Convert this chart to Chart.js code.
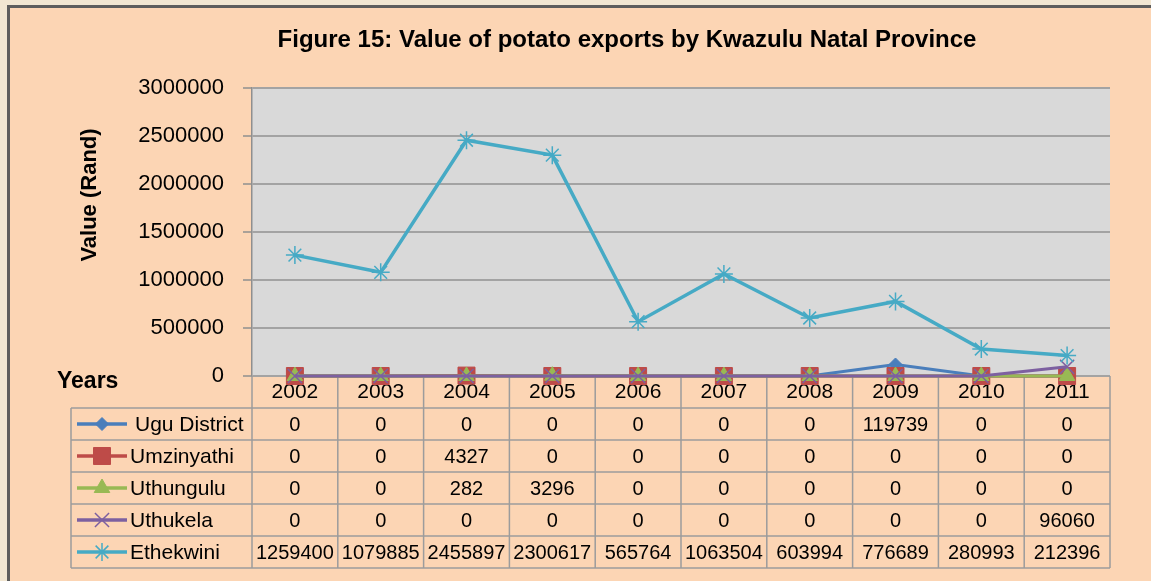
<!DOCTYPE html>
<html>
<head>
<meta charset="utf-8">
<title>Figure 15: Value of potato exports by Kwazulu Natal Province</title>
<script src="https://cdn.jsdelivr.net/npm/chart.js@4.4.1/dist/chart.umd.min.js"></script>
<style>
  html, body { margin: 0; padding: 0; }
  body { width: 1151px; height: 581px; overflow: hidden; background: #f1e6d2; position: relative; }
  #frame {
    position: absolute; left: 7px; top: 5px; width: 1200px; height: 640px;
    background: #fcd5b4; border: 3px solid #5d5d5d; box-sizing: border-box;
  }
  #chart { position: absolute; left: 0; top: 0; }
</style>
</head>
<body>
<div id="frame"></div>
<canvas id="chart" width="1151" height="581"></canvas>
<script>
// Figure 15 – value of potato exports, Kwazulu Natal, by district

const years = ["2002", "2003", "2004", "2005", "2006", "2007", "2008", "2009", "2010", "2011"];

const seriesNames = ["Ugu District", "Umzinyathi", "Uthungulu", "Uthukela", "Ethekwini"];

const ugu        = [0, 0, 0, 0, 0, 0, 0, 119739, 0, 0];
const umzinyathi = [0, 0, 4327, 0, 0, 0, 0, 0, 0, 0];
const uthungulu  = [0, 0, 282, 3296, 0, 0, 0, 0, 0, 0];
const uthukela   = [0, 0, 0, 0, 0, 0, 0, 0, 0, 96060];
const ethekwini  = [1259400, 1079885, 2455897, 2300617, 565764, 1063504, 603994, 776689, 280993, 212396];

const yMax = 3000000;
const yStep = 500000;

const titleText = "Figure 15: Value of potato exports by Kwazulu Natal Province";
const yTitle = "Value (Rand)";
const xTitle = "Years";

const FONT = "'Liberation Sans', Arial, sans-serif";

const styles = [
  { color: "#4a7ebb", point: "rectRot",  radius: 6.5, border: 1,   width: 3 },
  { color: "#be4b48", point: "rect",     radius: 12,  border: 1,   width: 3 },
  { color: "#98b954", point: "triangle", radius: 9,   border: 1,   width: 3 },
  { color: "#7d60a0", point: "crossRot", radius: 10,  border: 1.5, width: 3 },
  { color: "#46aac5", point: "star",     radius: 9,   border: 1.5, width: 3.5 },
];

const seriesData = [ugu, umzinyathi, uthungulu, uthukela, ethekwini];

// таблица данных под графиком + заголовки
const dataTable = {
  id: "dataTable",
  beforeDraw(chart) {
    const { ctx, chartArea: a } = chart;
    ctx.save();
    ctx.fillStyle = "#d9d9d9";
    ctx.fillRect(a.left, a.top, a.right - a.left, a.bottom - a.top);
    ctx.restore();
  },
  beforeDatasetsDraw(chart) {
    const { ctx, chartArea: a } = chart;
    const xs = chart.scales.x;
    const n = years.length;
    const tableLeft = 71;
    const headTop = a.bottom;
    const rowTop = xs.bottom;
    const rowH = 32;
    const tableBottom = rowTop + rowH * seriesNames.length;

    const edges = [];
    for (let i = 0; i <= n; i++) {
      if (i === 0) edges.push(a.left);
      else if (i === n) edges.push(a.right);
      else edges.push((xs.getPixelForValue(i - 1) + xs.getPixelForValue(i)) / 2);
    }

    ctx.save();
    ctx.strokeStyle = "#9c9c9c";
    ctx.lineWidth = 1.5;
    ctx.beginPath();
    for (let r = 0; r <= seriesNames.length; r++) {
      const y = rowTop + r * rowH;
      ctx.moveTo(tableLeft, y);
      ctx.lineTo(a.right, y);
    }
    ctx.moveTo(tableLeft, rowTop);
    ctx.lineTo(tableLeft, tableBottom);
    edges.forEach((x) => {
      ctx.moveTo(x, headTop);
      ctx.lineTo(x, tableBottom);
    });
    ctx.stroke();

    ctx.fillStyle = "#000";
    ctx.textBaseline = "middle";
    ctx.textAlign = "center";
    ctx.font = `20px ${FONT}`;
    seriesData.forEach((vals, r) => {
      const y = rowTop + r * rowH + rowH / 2 + 1;
      vals.forEach((v, i) => {
        ctx.fillText(String(v), xs.getPixelForValue(i), y);
      });
    });

    // легенда в первой колонке
    seriesNames.forEach((name, r) => {
      const s = styles[r];
      const y = rowTop + r * rowH + rowH / 2;
      ctx.strokeStyle = s.color;
      ctx.lineWidth = 3.5;
      ctx.beginPath();
      ctx.moveTo(77, y);
      ctx.lineTo(127, y);
      ctx.stroke();
      ctx.fillStyle = s.color;
      ctx.strokeStyle = s.color;
      ctx.lineWidth = s.border;
      Chart.helpers.drawPoint(ctx, { pointStyle: s.point, radius: s.radius, rotation: 0, borderWidth: s.border }, 102, y);
      ctx.fillStyle = "#000";
      ctx.textAlign = "left";
      ctx.font = `21px ${FONT}`;
      ctx.fillText(name, r === 0 ? 135 : 130, y + 1);
    });

    ctx.font = `bold 24px ${FONT}`;
    ctx.textAlign = "center";
    ctx.fillText(titleText, 627, 40);

    ctx.font = `bold 23px ${FONT}`;
    ctx.textAlign = "left";
    ctx.fillText(xTitle, 57, 382);

    ctx.translate(90, 195);
    ctx.rotate(-Math.PI / 2);
    ctx.textAlign = "center";
    ctx.font = `bold 22px ${FONT}`;
    ctx.fillText(yTitle, 0, 0);
    ctx.restore();
  },
};

new Chart(document.getElementById("chart"), {
  type: "line",
  data: {
    labels: years,
    datasets: seriesNames.map((name, i) => ({
      label: name,
      data: seriesData[i],
      borderColor: styles[i].color,
      backgroundColor: styles[i].color,
      borderWidth: styles[i].width,
      pointStyle: styles[i].point,
      pointRadius: styles[i].radius,
      pointBorderWidth: styles[i].border,
      pointBackgroundColor: styles[i].color,
      pointBorderColor: styles[i].color,
      tension: 0,
      clip: false,
      order: seriesNames.length - 1 - i,
    })),
  },
  options: {
    responsive: false,
    animation: false,
    devicePixelRatio: 1,
    layout: { padding: { left: 120, right: 41, top: 88, bottom: 173 } },
    plugins: {
      legend: { display: false },
      tooltip: { enabled: false },
      title: { display: false },
    },
    scales: {
      x: {
        offset: true,
        grid: { display: false, drawTicks: false },
        border: { display: false },
        ticks: { color: "#000", font: { family: FONT, size: 21 }, padding: 4, maxRotation: 0 },
        afterFit: (s) => { s.height = 32; },
      },
      y: {
        min: 0,
        max: yMax,
        ticks: {
          stepSize: yStep,
          color: "#000",
          font: { family: FONT, size: 22 },
          padding: 19,
          callback: (v) => String(v),
        },
        grid: { color: "#a3a3a3", lineWidth: 2, tickLength: 9, tickColor: "#8f8f8f", tickWidth: 1.5 },
        border: { color: "#8f8f8f", width: 1.5 },
        afterFit: (s) => { s.width = 132; },
      },
    },
  },
  plugins: [dataTable],
});
</script>
</body>
</html>
